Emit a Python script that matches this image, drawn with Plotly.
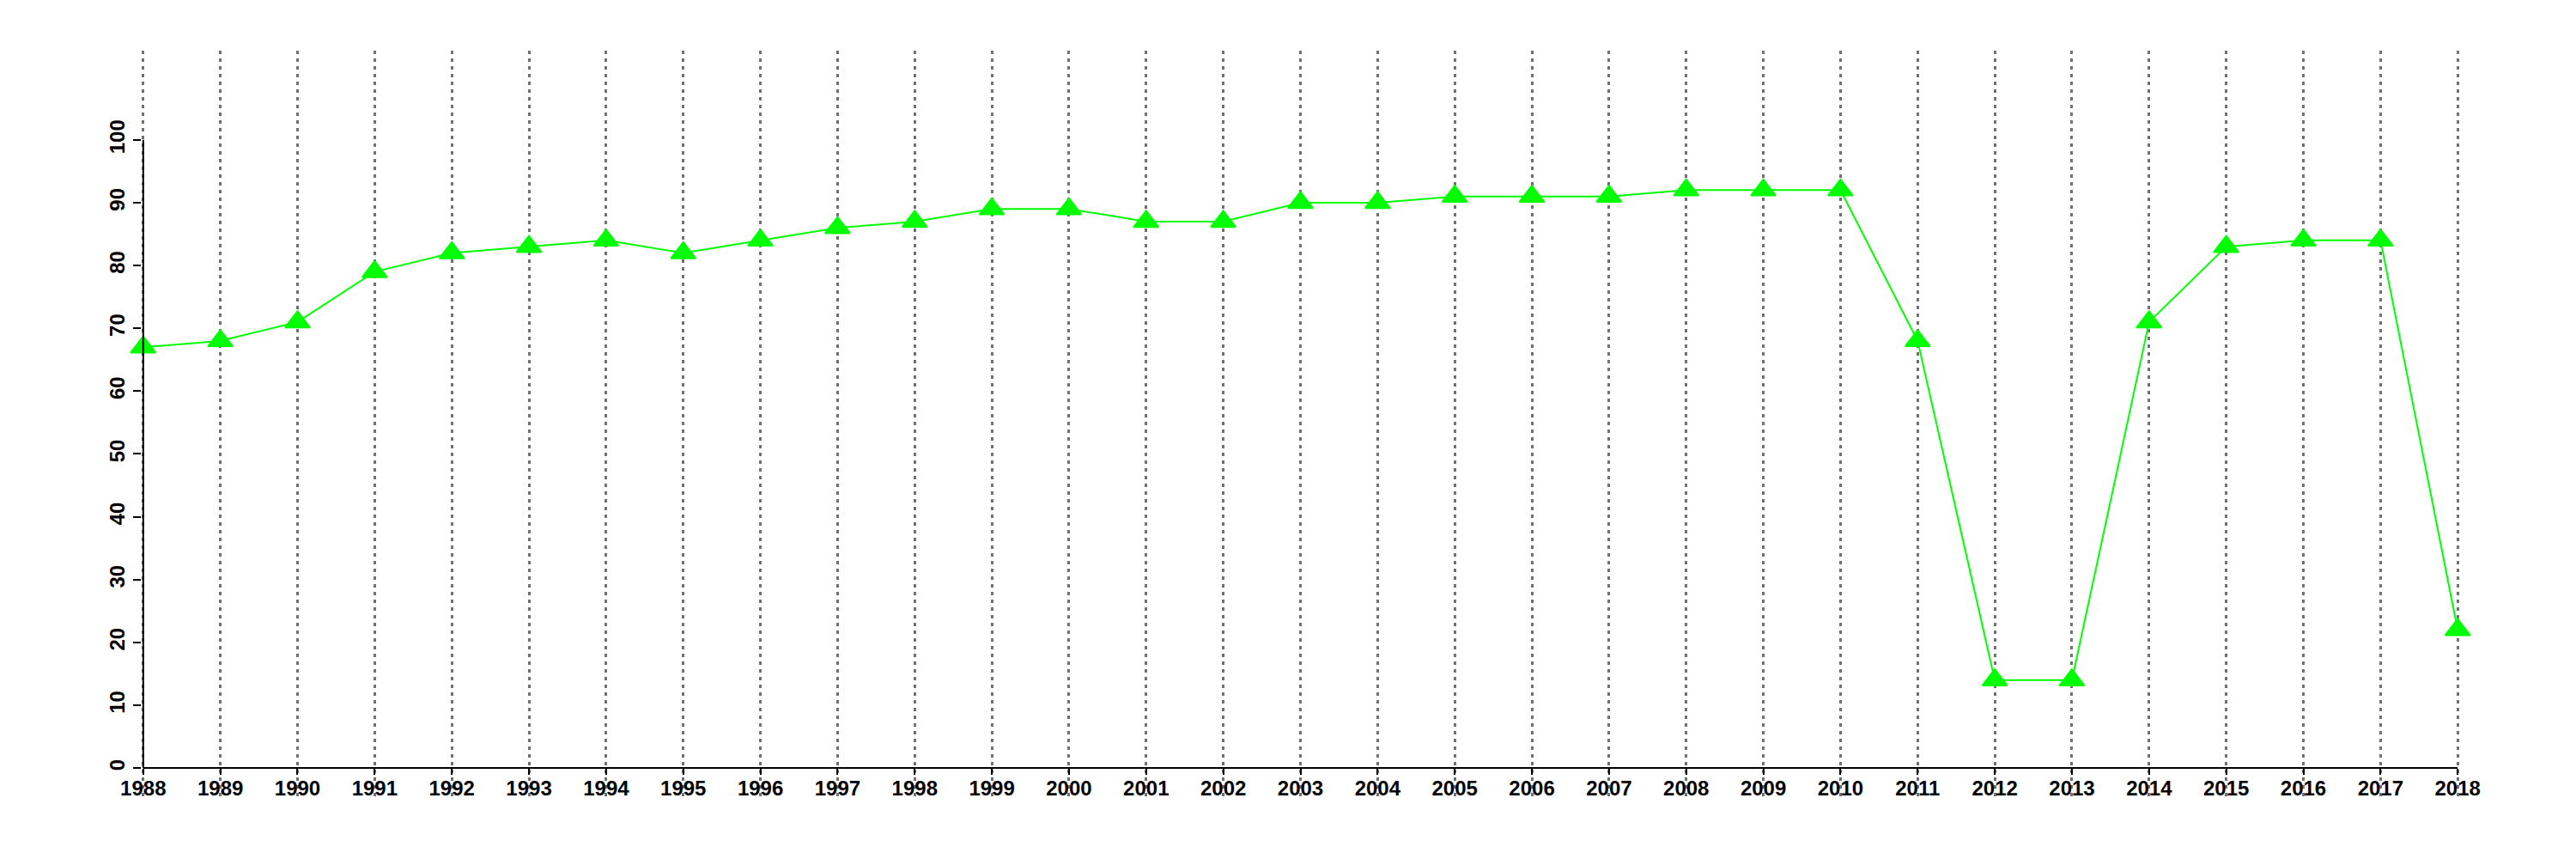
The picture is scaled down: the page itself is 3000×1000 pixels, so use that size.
import plotly.graph_objects as go

years = list(range(1988, 2019))
values = [67, 68, 71, 79, 82, 83, 84, 82, 84, 86, 87, 89, 89, 87, 87, 90, 90,
          91, 91, 91, 92, 92, 92, 68, 14, 14, 71, 83, 84, 84, 22]
y_ticks = list(range(0, 101, 10))

Y_MIN, Y_MAX = -4.5, 114.2
X_MIN, X_MAX = 1988, 2018
PAD = 0.02  # tiny pad so edge gridlines are drawn

fig = go.Figure()
fig.add_trace(go.Scatter(
    x=years, y=values, mode="lines+markers",
    line=dict(color="#00FF00", width=2),
    marker=dict(symbol="triangle-up", size=25, color="#00FF00",
                line=dict(color="#00FF00", width=2)),
    cliponaxis=False, showlegend=False,
))

# y axis line spanning 0..100 only
fig.add_shape(type="line", xref="x", yref="y", x0=X_MIN, x1=X_MAX - (X_MAX - X_MIN),
              y0=y_ticks[0], y1=y_ticks[-1], line=dict(color="black", width=2))

font = dict(family="Liberation Sans, Arial, sans-serif", size=24, color="black", weight="bold")

fig.update_layout(
    width=3000, height=1000,
    margin=dict(l=157, r=144, t=51, b=81),
    paper_bgcolor="white", plot_bgcolor="white",
    xaxis=dict(
        range=[X_MIN - PAD, X_MAX + PAD], tickvals=years, ticktext=[str(y) for y in years],
        showgrid=True, gridcolor="#707070", gridwidth=2.5, griddash="4px,5px",
        zeroline=False, showline=False,
        ticks="outside", ticklen=7, tickwidth=2, tickcolor="black",
        ticklabelstandoff=-5,
        anchor="free", position=(0 - Y_MIN) / (Y_MAX - Y_MIN),
        tickfont=font,
    ),
    yaxis=dict(
        range=[Y_MIN, Y_MAX], tickvals=y_ticks,
        showgrid=False, zeroline=False, showline=False,
        ticks="outside", ticklen=9, tickwidth=2, tickcolor="black",
        tickangle=-90, tickfont=font,
    ),
)

# x axis line at y=0 spanning first to last year
fig.add_shape(type="line", xref="x", yref="y", x0=X_MIN, x1=X_MAX,
              y0=0, y1=0, line=dict(color="black", width=2))

fig.write_html("out.html")
